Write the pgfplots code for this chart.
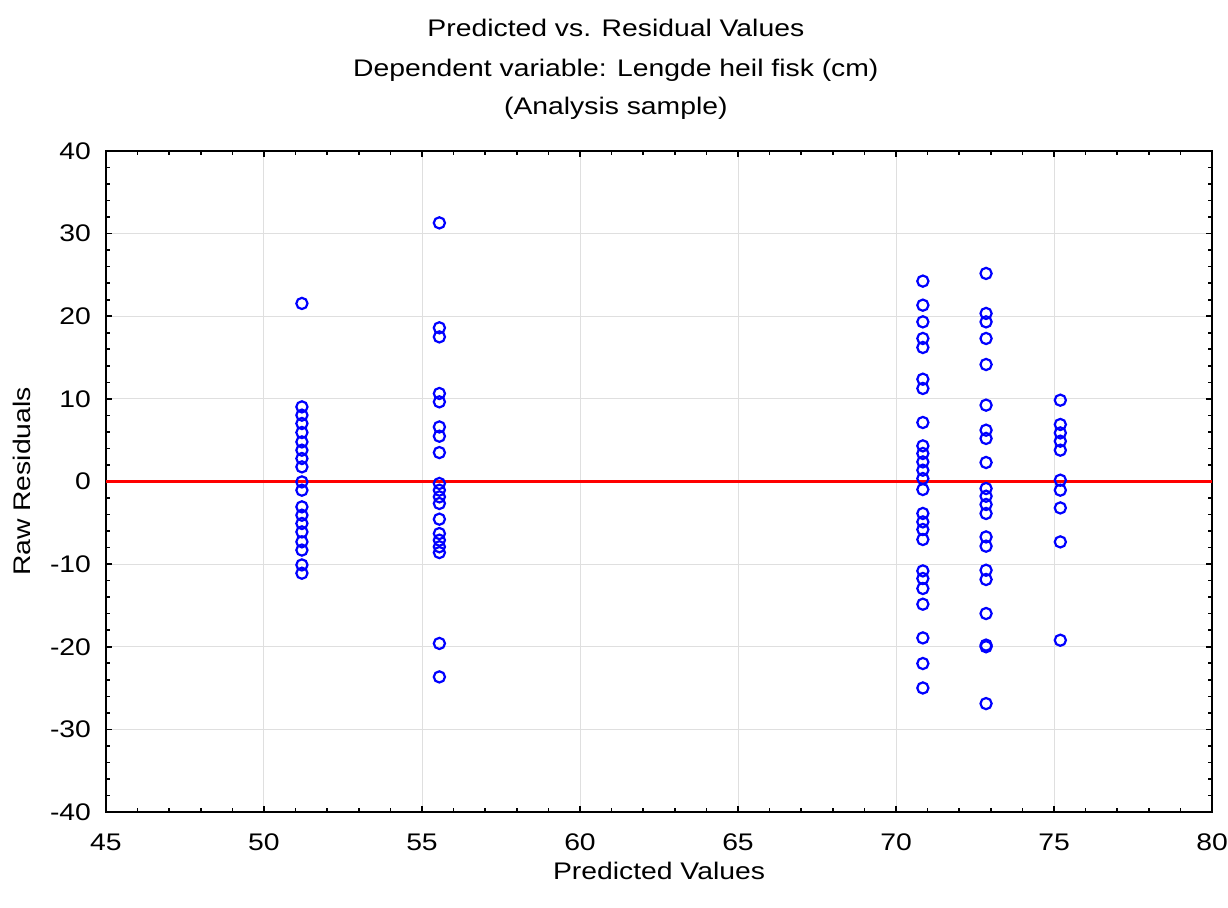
\documentclass[border=0pt]{standalone}
\usepackage{pgfplots}
\pgfplotsset{compat=1.18}
\usepackage{fontspec}
\setmainfont{Liberation Sans}[FakeStretch=1.18]
\definecolor{ptblue}{RGB}{0,0,255}
\definecolor{ptred}{RGB}{255,0,0}
\begin{document}
\begin{tikzpicture}
\begin{axis}[
  name=ax,
  scale only axis,
  width=553bp, height=330.5bp,
  xmin=45, xmax=80, ymin=-40, ymax=40,
  xtick={45,50,...,80}, ytick={-40,-30,...,40},
  minor x tick num=4, minor y tick num=4,
  tick align=inside,
  major tick length=3bp, minor tick length=2bp,
  every tick/.style={black, line width=0.8bp},
  axis line style={black, line width=1.2bp},
  grid=major,
  major grid style={gray!25, line width=0.5bp},
  /pgf/number format/assume math mode=true,
  tick label style={font=\fontsize{12bp}{14bp}\selectfont},
  xticklabel style={anchor=north, yshift=-7.5bp},
  yticklabel style={xshift=-4bp},
  xlabel={Predicted Values},
  ylabel={Raw Residuals},
  label style={font=\fontsize{12bp}{14bp}\selectfont},
  xlabel style={at={(axis description cs:0.5,0)}, anchor=center, yshift=-29.5bp},
  ylabel style={at={(axis description cs:-0.076,0.5)}, anchor=center},
  clip=false,
]
\addplot[ptred, line width=1.3bp, forget plot] coordinates {(45,0) (80,0)};
\addplot[only marks, mark=o, mark size=2.8bp, mark options={ptblue, line width=1.1bp}] coordinates {
(51.2,21.55) (51.2,9.03) (51.2,8.03) (51.2,7.02) (51.2,5.93) (51.2,4.79) (51.2,3.79) (51.2,2.78) (51.2,1.77)
(51.2,-0.05) (51.2,-1.05) (51.2,-3.07) (51.2,-4.08) (51.2,-5.08) (51.2,-6.1) (51.2,-7.3) (51.2,-8.3) (51.2,-10.1) (51.2,-11.1)
(55.55,31.3) (55.55,18.6) (55.55,17.5) (55.55,10.65) (55.55,9.64) (55.55,6.6) (55.55,5.48) (55.55,3.5)
(55.55,-0.24) (55.55,-1.05) (55.55,-1.86) (55.55,-2.66) (55.55,-4.56) (55.55,-6.3) (55.55,-7.1) (55.55,-7.9) (55.55,-8.6)
(55.55,-19.6) (55.55,-23.65)
(70.85,24.25) (70.85,21.34) (70.85,19.32) (70.85,17.31) (70.85,16.22) (70.85,12.38) (70.85,11.26) (70.85,7.14)
(70.85,4.31) (70.85,3.39) (70.85,2.37) (70.85,1.37) (70.85,0.36) (70.85,-0.97) (70.85,-3.87) (70.85,-4.89)
(70.85,-5.81) (70.85,-7.02) (70.85,-10.82) (70.85,-11.74) (70.85,-12.95) (70.85,-14.85) (70.85,-18.93) (70.85,-22.03) (70.85,-24.99)
(72.85,25.18) (72.85,20.34) (72.85,19.32) (72.85,17.31) (72.85,14.16) (72.85,9.24) (72.85,6.21) (72.85,5.21) (72.85,2.3)
(72.85,-0.85) (72.85,-1.78) (72.85,-2.78) (72.85,-3.87) (72.85,-6.71) (72.85,-7.83) (72.85,-10.74) (72.85,-11.86)
(72.85,-15.98) (72.85,-19.8) (72.85,-20.0) (72.85,-26.88)
(75.2,9.84) (75.2,6.9) (75.2,5.88) (75.2,4.88) (75.2,3.79) (75.2,0.16) (75.2,-1.05) (75.2,-3.2) (75.2,-7.31) (75.2,-19.21)
};
\node[anchor=base, font=\fontsize{12bp}{14bp}\selectfont] at ([yshift=57.2bp]rel axis cs:0.461,1) {Predicted vs. Residual Values};
\node[anchor=base, font=\fontsize{12bp}{14bp}\selectfont] at ([yshift=37.2bp]rel axis cs:0.461,1) {Dependent variable: Lengde heil fisk (cm)};
\node[anchor=base, font=\fontsize{12bp}{14bp}\selectfont] at ([yshift=18bp]rel axis cs:0.461,1) {(Analysis sample)};
\end{axis}
\pgfresetboundingbox
\path[use as bounding box] ([xshift=-53bp,yshift=-48bp]ax.south west) rectangle ([xshift=8bp,yshift=75.5bp]ax.north east);
\end{tikzpicture}
\end{document}
